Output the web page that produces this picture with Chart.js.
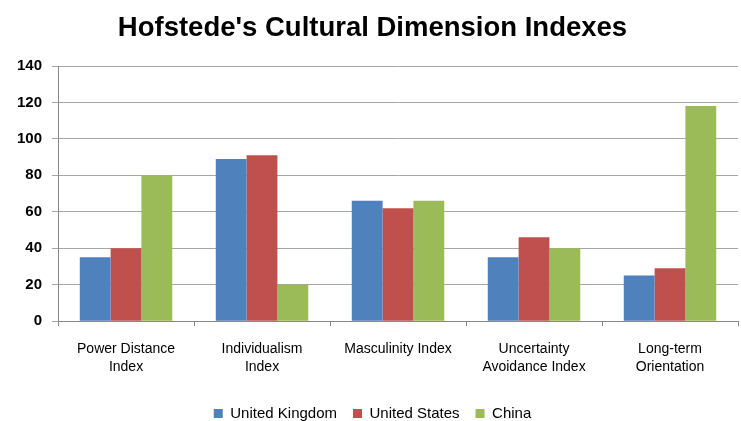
<!DOCTYPE html>
<html>
<head>
<meta charset="utf-8">
<script src="https://cdn.jsdelivr.net/npm/chart.js@4/dist/chart.umd.min.js"></script>
<style>
  html, body { margin: 0; padding: 0; background: #fff; }
  #wrap { width: 741px; height: 421px; }
</style>
</head>
<body>
<div id="wrap"><canvas id="chart"></canvas></div>
<script>
// data
const categories = [
    ['Power Distance', 'Index'],
    ['Individualism', 'Index'],
    'Masculinity Index',
    ['Uncertainty', 'Avoidance Index'],
    ['Long-term', 'Orientation']
];
const seriesNames = ['United Kingdom', 'United States', 'China'];
const ukValues = [35, 89, 66, 35, 25];
const usValues = [40, 91, 62, 46, 29];
const chinaValues = [80, 20, 66, 40, 118];
const colors = ['#4F81BD', '#C0504D', '#9BBB59'];

const fontFamily = "'Liberation Sans', Arial, sans-serif";

function makeDataset(i, values) {
    return {
        label: seriesNames[i],
        data: values,
        backgroundColor: colors[i],
        categoryPercentage: 0.68,
        barPercentage: 1.0
    };
}

new Chart(document.getElementById('chart'), {
    type: 'bar',
    data: {
        labels: categories,
        datasets: [
            makeDataset(0, ukValues),
            makeDataset(1, usValues),
            makeDataset(2, chinaValues)
        ]
    },
    options: {
        responsive: true,
        maintainAspectRatio: false,
        animation: false,
        // negative bottom padding pushes the legend down like in the picture
        layout: { padding: { left: 7, right: 3, top: 4, bottom: -10 } },
        plugins: {
            title: {
                display: true,
                text: "Hofstede's Cultural Dimension Indexes",
                color: '#000',
                font: { family: fontFamily, size: 27.5, weight: 'bold' },
                padding: { top: 8, bottom: 21 }
            },
            legend: {
                position: 'bottom',
                labels: {
                    color: '#000',
                    boxWidth: 9,
                    boxHeight: 9,
                    padding: 16,
                    font: { family: fontFamily, size: 15 }
                }
            },
            tooltip: { enabled: false }
        },
        scales: {
            x: {
                grid: {
                    display: true,
                    drawOnChartArea: false,
                    drawTicks: true,
                    tickLength: 5,
                    color: '#888'
                },
                border: { color: '#888' },
                ticks: {
                    color: '#000',
                    maxRotation: 0,
                    autoSkip: false,
                    padding: 14,
                    font: { family: fontFamily, size: 14, lineHeight: 1.28 }
                }
            },
            y: {
                min: 0,
                max: 140,
                ticks: {
                    stepSize: 20,
                    color: '#000',
                    padding: 10,
                    font: { family: fontFamily, size: 15, weight: 'bold' }
                },
                grid: { color: '#a6a6a6', tickLength: 6 },
                border: { color: '#888' }
            }
        }
    }
});
</script>
</body>
</html>
